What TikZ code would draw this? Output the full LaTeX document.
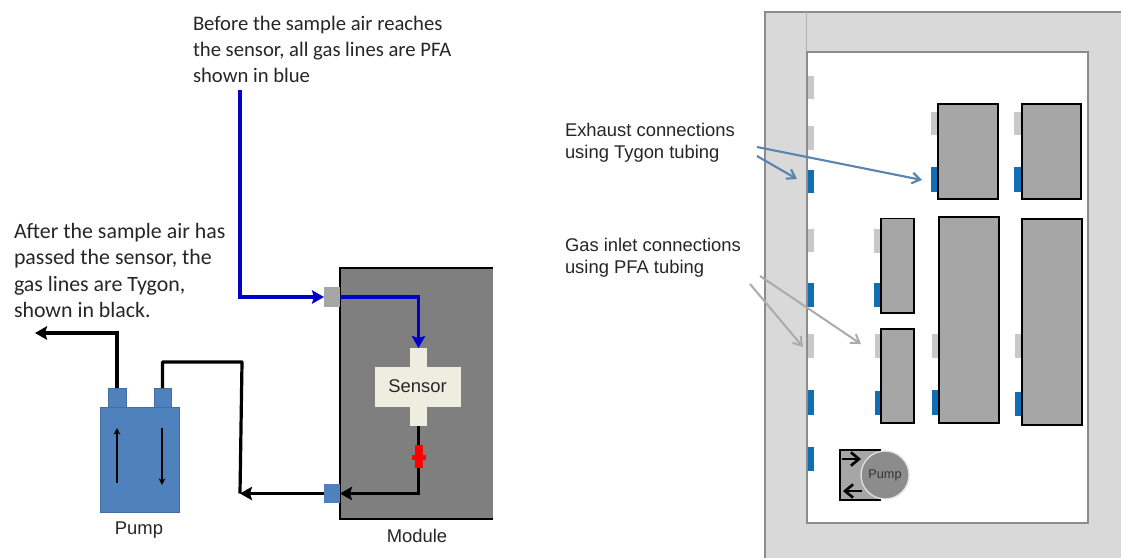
\documentclass[tikz,border=0pt]{standalone}
\usepackage{fontspec}
\setmainfont{Carlito}
\newfontfamily\arialf{Liberation Sans}
\usetikzlibrary{arrows.meta}
\definecolor{wallc}{HTML}{D9D9D9}
\definecolor{edgec}{HTML}{8C8C8C}
\definecolor{modc}{HTML}{7F7F7F}
\definecolor{portg}{HTML}{A6A6A6}
\definecolor{sensc}{HTML}{EEEEE0}
\definecolor{pumpc}{HTML}{4F81BD}
\definecolor{unitc}{HTML}{A6A6A6}
\definecolor{gportc}{HTML}{C8C8C8}
\definecolor{bportc}{HTML}{0F6FB5}
\definecolor{pipeb}{HTML}{0000C8}
\definecolor{ptrb}{HTML}{5B84AE}
\definecolor{ptrg}{HTML}{ABABAB}
\newcommand{\bx}[6]{%
  \pgfmathsetmacro{\cxv}{(#3+#5)/2}\pgfmathsetmacro{\cyv}{(#4+#6)/2}%
  \pgfmathsetmacro{\wv}{(#5-#3)*0.75}\pgfmathsetmacro{\hv}{(#6-#4)*0.75}%
  \node[#2,minimum width=\wv pt,minimum height=\hv pt] (#1) at (\cxv,\cyv) {};}
\tikzset{
  x=0.75pt,y=-0.75pt,
  every node/.style={inner sep=0pt,outer sep=0pt},
  note/.style={align=left,anchor=west,font=\fontsize{15.5}{19.7}\selectfont,text=black!85},
  notealt/.style={align=left,anchor=west,font=\fontsize{16.4}{19.6}\selectfont,text=black!85},
  labelr/.style={align=left,anchor=west,font=\arialf\fontsize{13.8}{16.5}\selectfont,text=black!85},
  labelc/.style={anchor=center,font=\arialf\fontsize{13.8}{16}\selectfont,text=black!85},
  pumpbox/.style={rectangle,fill=pumpc,draw=pumpc!85!black,line width=0.5pt},
  unit/.style={rectangle,fill=unitc,draw=black,line width=1.4pt},
  gp/.style={rectangle,fill=gportc},
  bp/.style={rectangle,fill=bportc},
  sens/.style={rectangle,fill=sensc},
  blue pipe/.style={draw=pipeb,line width=2.8pt},
  black pipe/.style={draw=black,line width=2.8pt},
  tiptri/.style={-{Stealth[length=9pt,width=10pt,inset=1.5pt]}},
  ptrblue/.style={draw=ptrb,line width=1.6pt,-{Straight Barb[length=6pt,width=8pt]}},
  ptrgray/.style={draw=ptrg,line width=1.5pt,-{Straight Barb[length=6pt,width=8pt]}},
}
\begin{document}
\begin{tikzpicture}
\useasboundingbox (0,0) rectangle (1121,558);
\fill[white] (0,0) rectangle (1121,558);
% left diagram
\fill[modc] (340,268) rectangle (493,519);
\draw[black,line width=1.2pt] (493,268) -- (340,268) -- (340,519) -- (493,519);
\bx{gport}{rectangle,fill=portg}{324}{287}{340}{307}
\bx{bport}{rectangle,fill=pumpc}{324}{484}{340}{503}
\bx{sensh}{sens}{375}{367}{461}{407}
\bx{sensv}{sens}{410}{348}{427}{426}
\node[labelc] at (417.5,386.5) {Sensor};
\bx{pump}{pumpbox}{100}{407}{179}{512}
\bx{tabl}{pumpbox}{108}{388}{126}{407}
\bx{tabr}{pumpbox}{154}{388}{171}{407}
\node[labelc] (pumplab) at (139,530) {Pump};
\node[labelc] (modlab) at (417,536) {Module};
\coordinate (bstart) at (240,90);
\coordinate (bbend) at (240,297);
\coordinate (exit) at (35,333);
\coordinate (jn) at (240,493.5);
\coordinate (top) at (242,362);
\draw[blue pipe,tiptri] (bstart) -- (bbend) -- (gport.west);
\draw[blue pipe,tiptri] (gport.east) -| (sensv.north);
\draw[black pipe,tiptri] (sensv.south) |- (bport.east);
\draw[black pipe,tiptri] (tabl.north) |- (exit);
\draw[black pipe,tiptri] (bport.west) -- (jn);
\draw[black pipe,line width=2.4pt,line join=round] (jn) -- (top) -- (162.5,362) -- (tabr.north);
\fill[red] (415,445) rectangle (423,468);
\fill[red] (412,455) rectangle (426,460);
\draw[black,line width=1.5pt,-{Stealth[length=5pt,width=5pt]}] (117,483) -- (117,428);
\draw[black,line width=1.5pt,-{Stealth[length=5pt,width=5pt]}] (162,428) -- (162,485);
\node[note] (n1) at (193,49.5) {Before the sample air reaches\\the sensor, all gas lines are PFA\\shown in blue};
\node[notealt] (n2) at (14,270.5) {After the sample air has\\passed the sensor, the\\gas lines are Tygon,\\shown in black.};
% right diagram
\fill[wallc] (765,12) rectangle (1121,558);
\draw[edgec,line width=1.5pt] (765,558) -- (765,12) -- (1121,12);
\draw[gportc!90!black,line width=0.5pt] (806,12) -- (806,52);
\bx{room}{rectangle,fill=white,draw=edgec,line width=1.3pt}{807}{52}{1088}{523}
\foreach \a/\b [count=\i] in {76/99,126/150,229/252,334/358}{\bx{wg\i}{gp}{807.5}{\a}{813.5}{\b}}
\foreach \a/\b [count=\i] in {170/193,283/307,390/415,447/471}{\bx{wb\i}{bp}{807.5}{\a}{814}{\b}}
\bx{gA}{gp}{931}{112}{938}{135}
\bx{bA}{bp}{931}{167}{938}{192}
\bx{gB}{gp}{1014}{112}{1022}{135}
\bx{bB}{bp}{1014}{167}{1022}{192}
\bx{gC}{gp}{874}{229}{881}{253}
\bx{bC}{bp}{874}{283}{881}{307}
\bx{gF}{gp}{875}{334}{881}{358}
\bx{bF}{bp}{875}{391}{881}{415}
\bx{gD}{gp}{932}{334}{939}{358}
\bx{bD}{bp}{932}{390}{939}{415}
\bx{gE}{gp}{1015}{334}{1022}{358}
\bx{bE}{bp}{1015}{392}{1022}{416}
\bx{A}{unit}{938}{104}{998}{199}
\bx{B}{unit}{1022}{104}{1081}{199}
\bx{C}{unit}{881}{218.5}{914}{313}
\bx{D}{unit}{939}{217}{999}{423}
\bx{E}{unit}{1022}{219}{1082}{425}
\bx{F}{unit}{881}{329}{914}{423}
\bx{pbox}{unit}{840}{450}{880}{500}
\node[circle,fill=black!45,draw=black!12,line width=1pt,minimum size=36pt,font=\arialf\fontsize{9.5}{11}\selectfont,text=black!80] (pcirc) at (885,475) {Pump};
\draw[black,line width=2pt,-{Straight Barb[length=6pt,width=10pt]}] (842,459) -- (861,459);
\draw[black,line width=2pt,-{Straight Barb[length=6pt,width=10pt]}] (862,491) -- (843,491);
\node[labelr] (l1) at (565,142.5) {Exhaust connections\\using Tygon tubing};
\node[labelr] (l2) at (565,257.5) {Gas inlet connections\\using PFA tubing};
\coordinate (pb1) at (757,147);
\coordinate (pb2) at (757,156);
\coordinate (pg1) at (760,276);
\coordinate (pg2) at (750,284);
\coordinate (tb1) at (922,180);
\coordinate (tb2) at (797,179);
\coordinate (tg1) at (861,344);
\coordinate (tg2) at (803,347);
\draw[ptrblue] (pb1) -- (tb1);
\draw[ptrblue] (pb2) -- (tb2);
\draw[ptrgray] (pg1) -- (tg1);
\draw[ptrgray] (pg2) -- (tg2);
\end{tikzpicture}
\end{document}
